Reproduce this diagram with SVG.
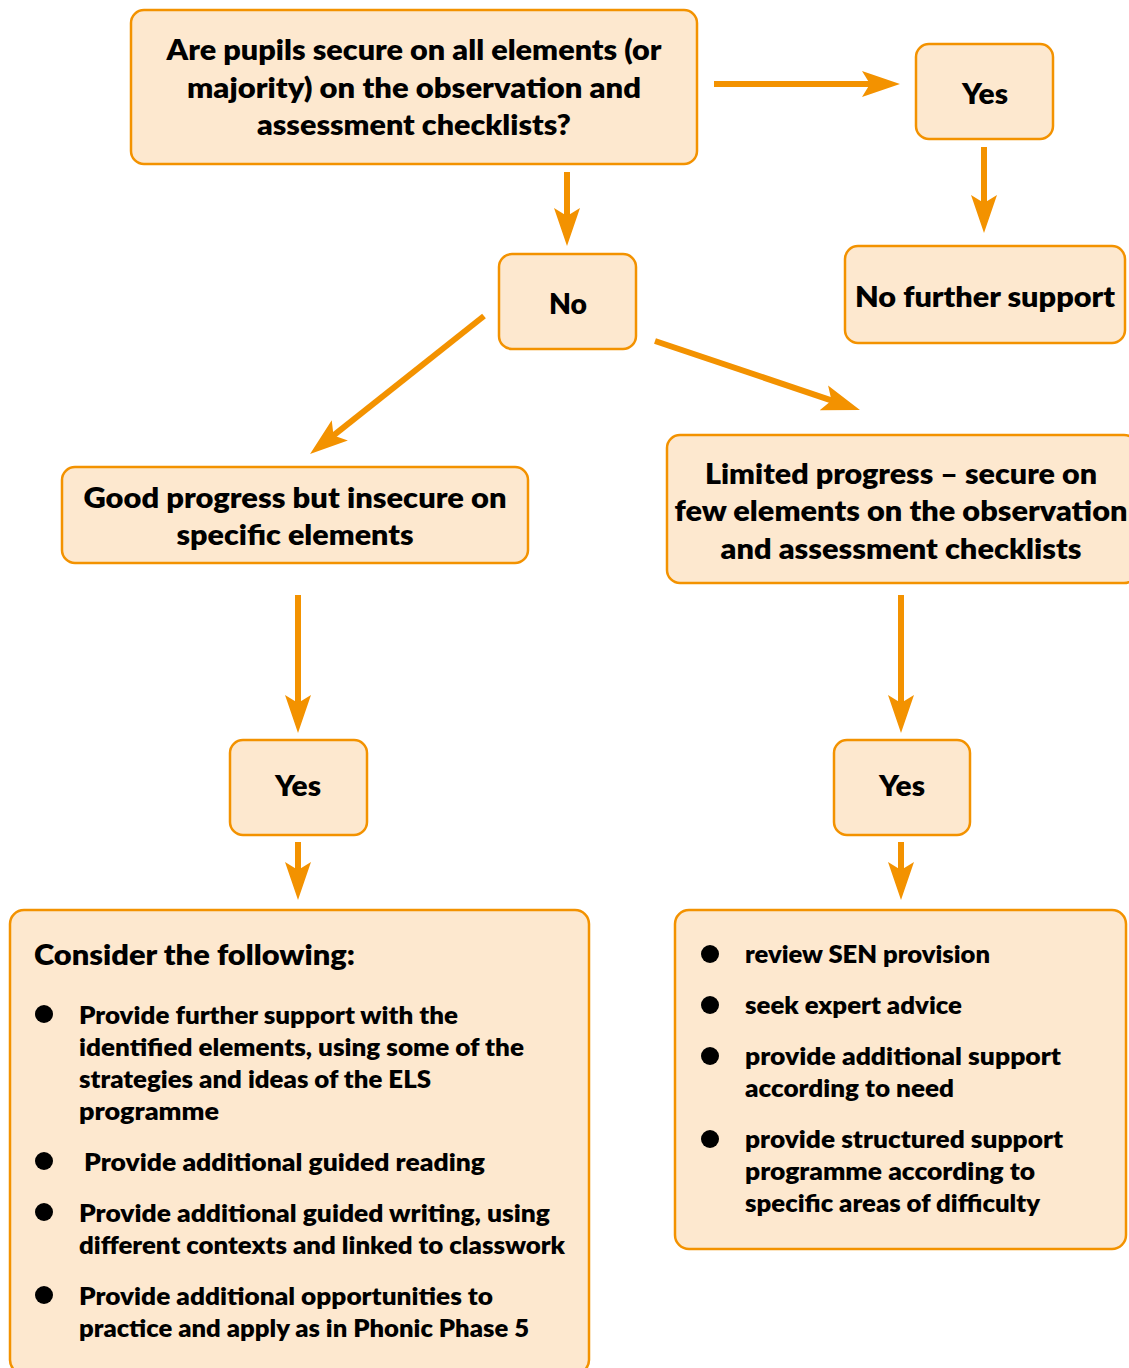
<svg xmlns="http://www.w3.org/2000/svg" width="1129" height="1368" viewBox="0 0 1129 1368">
<style>
.box{fill:#FDE8CF;stroke:#F39200;stroke-width:2.5}
text{font-family:Lato,"Open Sans","Liberation Sans",sans-serif;font-weight:800;fill:#000}
.t{font-size:28px;text-anchor:middle}
.l{font-size:25px}
.h{font-size:29px}
.c{stroke:#F39200;stroke-width:6;fill:none}
.b{fill:#000}
</style>
<defs>
<marker id="ah" markerUnits="userSpaceOnUse" markerWidth="40" markerHeight="28" viewBox="0 -14 40 28" refX="18" refY="0" orient="auto">
<path d="M0,-13 L38,0 L0,13 L8,0 Z" fill="#F39200"/>
</marker>
</defs>
<g id="connectors">
<line class="c" x1="714" y1="84" x2="880" y2="84" marker-end="url(#ah)"/>
<line class="c" x1="984" y1="147" x2="984" y2="213" marker-end="url(#ah)"/>
<line class="c" x1="567" y1="172" x2="567" y2="226" marker-end="url(#ah)"/>
<line class="c" x1="484" y1="316" x2="325.7" y2="441.6" marker-end="url(#ah)"/>
<line class="c" x1="655" y1="341" x2="841" y2="403.6" marker-end="url(#ah)"/>
<line class="c" x1="298" y1="595" x2="298" y2="713" marker-end="url(#ah)"/>
<line class="c" x1="901" y1="595" x2="901" y2="713" marker-end="url(#ah)"/>
<line class="c" x1="298" y1="842" x2="298" y2="880" marker-end="url(#ah)"/>
<line class="c" x1="901" y1="842" x2="901" y2="880" marker-end="url(#ah)"/>
</g>
<g id="question">
<rect class="box" x="131" y="10" width="566" height="154" rx="13"/>
<text class="t" x="414" y="60" textLength="495" lengthAdjust="spacingAndGlyphs">Are pupils secure on all elements (or</text>
<text class="t" x="414" y="98" textLength="454" lengthAdjust="spacingAndGlyphs">majority) on the observation and</text>
<text class="t" x="414" y="135" textLength="314" lengthAdjust="spacingAndGlyphs">assessment checklists?</text>
</g>
<g id="yes-top">
<rect class="box" x="916" y="44" width="137" height="95" rx="13"/>
<text class="t" x="985" y="104" textLength="46" lengthAdjust="spacingAndGlyphs">Yes</text>
</g>
<g id="no-further">
<rect class="box" x="845" y="246" width="280" height="97" rx="13"/>
<text class="t" x="985" y="307" textLength="260" lengthAdjust="spacingAndGlyphs">No further support</text>
</g>
<g id="no">
<rect class="box" x="499" y="254" width="137" height="95" rx="13"/>
<text class="t" x="568" y="314" textLength="38" lengthAdjust="spacingAndGlyphs">No</text>
</g>
<g id="good-progress">
<rect class="box" x="62" y="467" width="466" height="96" rx="13"/>
<text class="t" x="295" y="508" textLength="423" lengthAdjust="spacingAndGlyphs">Good progress but insecure on</text>
<text class="t" x="295" y="545" textLength="237" lengthAdjust="spacingAndGlyphs">specific elements</text>
</g>
<g id="limited-progress">
<rect class="box" x="667" y="435" width="470" height="148" rx="13"/>
<text class="t" x="901" y="484" textLength="392" lengthAdjust="spacingAndGlyphs">Limited progress – secure on</text>
<text class="t" x="901" y="521" textLength="453" lengthAdjust="spacingAndGlyphs">few elements on the observation</text>
<text class="t" x="901" y="559" textLength="361" lengthAdjust="spacingAndGlyphs">and assessment checklists</text>
</g>
<g id="yes-left">
<rect class="box" x="230" y="740" width="137" height="95" rx="13"/>
<text class="t" x="298" y="796" textLength="46" lengthAdjust="spacingAndGlyphs">Yes</text>
</g>
<g id="yes-right">
<rect class="box" x="834" y="740" width="136" height="95" rx="13"/>
<text class="t" x="902" y="796" textLength="46" lengthAdjust="spacingAndGlyphs">Yes</text>
</g>
<g id="consider">
<rect class="box" x="10" y="910" width="579" height="464" rx="14"/>
<text class="h" x="34" y="965" textLength="321" lengthAdjust="spacingAndGlyphs">Consider the following:</text>
<circle class="b" cx="44" cy="1014" r="9"/>
<circle class="b" cx="44" cy="1161" r="9"/>
<circle class="b" cx="44" cy="1212" r="9"/>
<circle class="b" cx="44" cy="1295" r="9"/>
<text class="l" x="79" y="1024" textLength="379" lengthAdjust="spacingAndGlyphs">Provide further support with the</text>
<text class="l" x="79" y="1056" textLength="445" lengthAdjust="spacingAndGlyphs">identified elements, using some of the</text>
<text class="l" x="79" y="1088" textLength="352" lengthAdjust="spacingAndGlyphs">strategies and ideas of the ELS</text>
<text class="l" x="79" y="1120" textLength="140" lengthAdjust="spacingAndGlyphs">programme</text>
<text class="l" x="84" y="1171" textLength="401" lengthAdjust="spacingAndGlyphs">Provide additional guided reading</text>
<text class="l" x="79" y="1222" textLength="471" lengthAdjust="spacingAndGlyphs">Provide additional guided writing, using</text>
<text class="l" x="79" y="1254" textLength="486" lengthAdjust="spacingAndGlyphs">different contexts and linked to classwork</text>
<text class="l" x="79" y="1305" textLength="414" lengthAdjust="spacingAndGlyphs">Provide additional opportunities to</text>
<text class="l" x="79" y="1337" textLength="450" lengthAdjust="spacingAndGlyphs">practice and apply as in Phonic Phase 5</text>
</g>
<g id="sen">
<rect class="box" x="675" y="910" width="451" height="339" rx="14"/>
<circle class="b" cx="710" cy="954" r="9"/>
<circle class="b" cx="710" cy="1005" r="9"/>
<circle class="b" cx="710" cy="1056" r="9"/>
<circle class="b" cx="710" cy="1139" r="9"/>
<text class="l" x="745" y="963" textLength="245" lengthAdjust="spacingAndGlyphs">review SEN provision</text>
<text class="l" x="745" y="1014" textLength="217" lengthAdjust="spacingAndGlyphs">seek expert advice</text>
<text class="l" x="745" y="1065" textLength="316" lengthAdjust="spacingAndGlyphs">provide additional support</text>
<text class="l" x="745" y="1097" textLength="209" lengthAdjust="spacingAndGlyphs">according to need</text>
<text class="l" x="745" y="1148" textLength="318" lengthAdjust="spacingAndGlyphs">provide structured support</text>
<text class="l" x="745" y="1180" textLength="290" lengthAdjust="spacingAndGlyphs">programme according to</text>
<text class="l" x="745" y="1212" textLength="295" lengthAdjust="spacingAndGlyphs">specific areas of difficulty</text>
</g>
</svg>
